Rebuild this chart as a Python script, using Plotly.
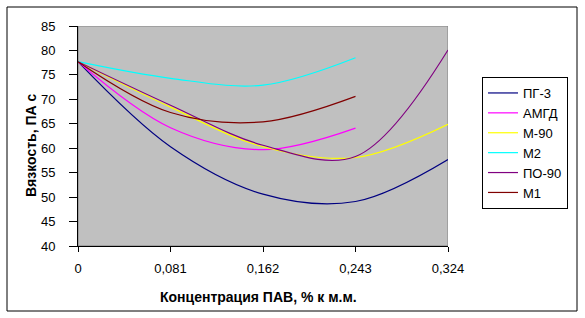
import plotly.graph_objects as go

categories = [0, 1, 2, 3, 4]
tick_labels = ["0", "0,081", "0,162", "0,243", "0,324"]

series_names = ["ПГ-3", "АМГД", "М-90", "М2", "ПО-90", "М1"]
pg3 = [77.7, 60.3, 50.6, 49.1, 57.7]
amgd = [77.7, 64.2, 59.7, 64.1]
m90 = [77.7, 68.4, 60.3, 58.1, 64.9]
m2 = [77.7, 74.3, 72.9, 78.5]
po90 = [77.7, 68.8, 60.6, 58.3, 80.1]
m1 = [77.7, 67.3, 65.4, 70.6]
series_values = [pg3, amgd, m90, m2, po90, m1]
colors = ["#000080", "#FF00FF", "#FFFF00", "#00FFFF", "#800080", "#800000"]

W, H = 585, 318
L, R, T, B = 78, 448, 26, 246
pw, ph = R - L, B - T

def px(x):
    return (x - L) / pw

def py(y):
    return (B - y) / ph

FONT = "Arial, Liberation Sans, sans-serif"

fig = go.Figure()
for name, vals, col in zip(series_names, series_values, colors):
    fig.add_trace(go.Scatter(
        x=categories[:len(vals)], y=vals, name=name, mode="lines",
        line=dict(color=col, width=1.2, shape="spline", smoothing=1.0),
    ))

fig.update_layout(
    width=W, height=H,
    margin=dict(l=L, r=W - R, t=T, b=H - B),
    paper_bgcolor="white",
    plot_bgcolor="#C0C0C0",
    font=dict(family=FONT, size=13, color="black"),
    showlegend=True,
    legend=dict(
        x=px(482), y=py(77), xanchor="left", yanchor="top",
        bgcolor="white", bordercolor="black", borderwidth=1,
        font=dict(family=FONT, size=13, color="black"),
        tracegroupgap=0,
    ),
    xaxis=dict(
        range=[0, 4], tickvals=categories, ticktext=tick_labels,
        showgrid=False, zeroline=False, showline=True, linecolor="black",
        linewidth=1, ticks="outside", ticklen=5, tickcolor="black",
        ticklabelstandoff=5, tickfont=dict(family=FONT, size=13),
    ),
    yaxis=dict(
        range=[40, 85], dtick=5, tick0=40,
        showgrid=False, zeroline=False, showline=True, linecolor="black",
        linewidth=1, ticks="outside", ticklen=8, tickcolor="black",
        ticklabelstandoff=11, tickfont=dict(family=FONT, size=13),
    ),
    shapes=[
        dict(type="rect", xref="x", yref="y", x0=0, x1=4, y0=40, y1=85,
             line=dict(color="#808080", width=1), layer="below"),
        dict(type="rect", xref="paper", yref="paper",
             x0=px(7), x1=px(577), y0=py(311), y1=py(7),
             line=dict(color="black", width=1)),
    ],
    annotations=[
        dict(text="<b>Концентрация ПАВ, % к м.м.</b>", xref="paper", yref="paper",
             x=px(258), y=py(297), xanchor="center", yanchor="middle",
             showarrow=False, font=dict(family=FONT, size=14)),
        dict(text="<b>Вязкость, ПА с</b>", xref="paper", yref="paper",
             x=px(31), y=py(145), xanchor="center", yanchor="middle",
             textangle=-90, showarrow=False, font=dict(family=FONT, size=14)),
    ],
)

fig.write_html("out.html")
